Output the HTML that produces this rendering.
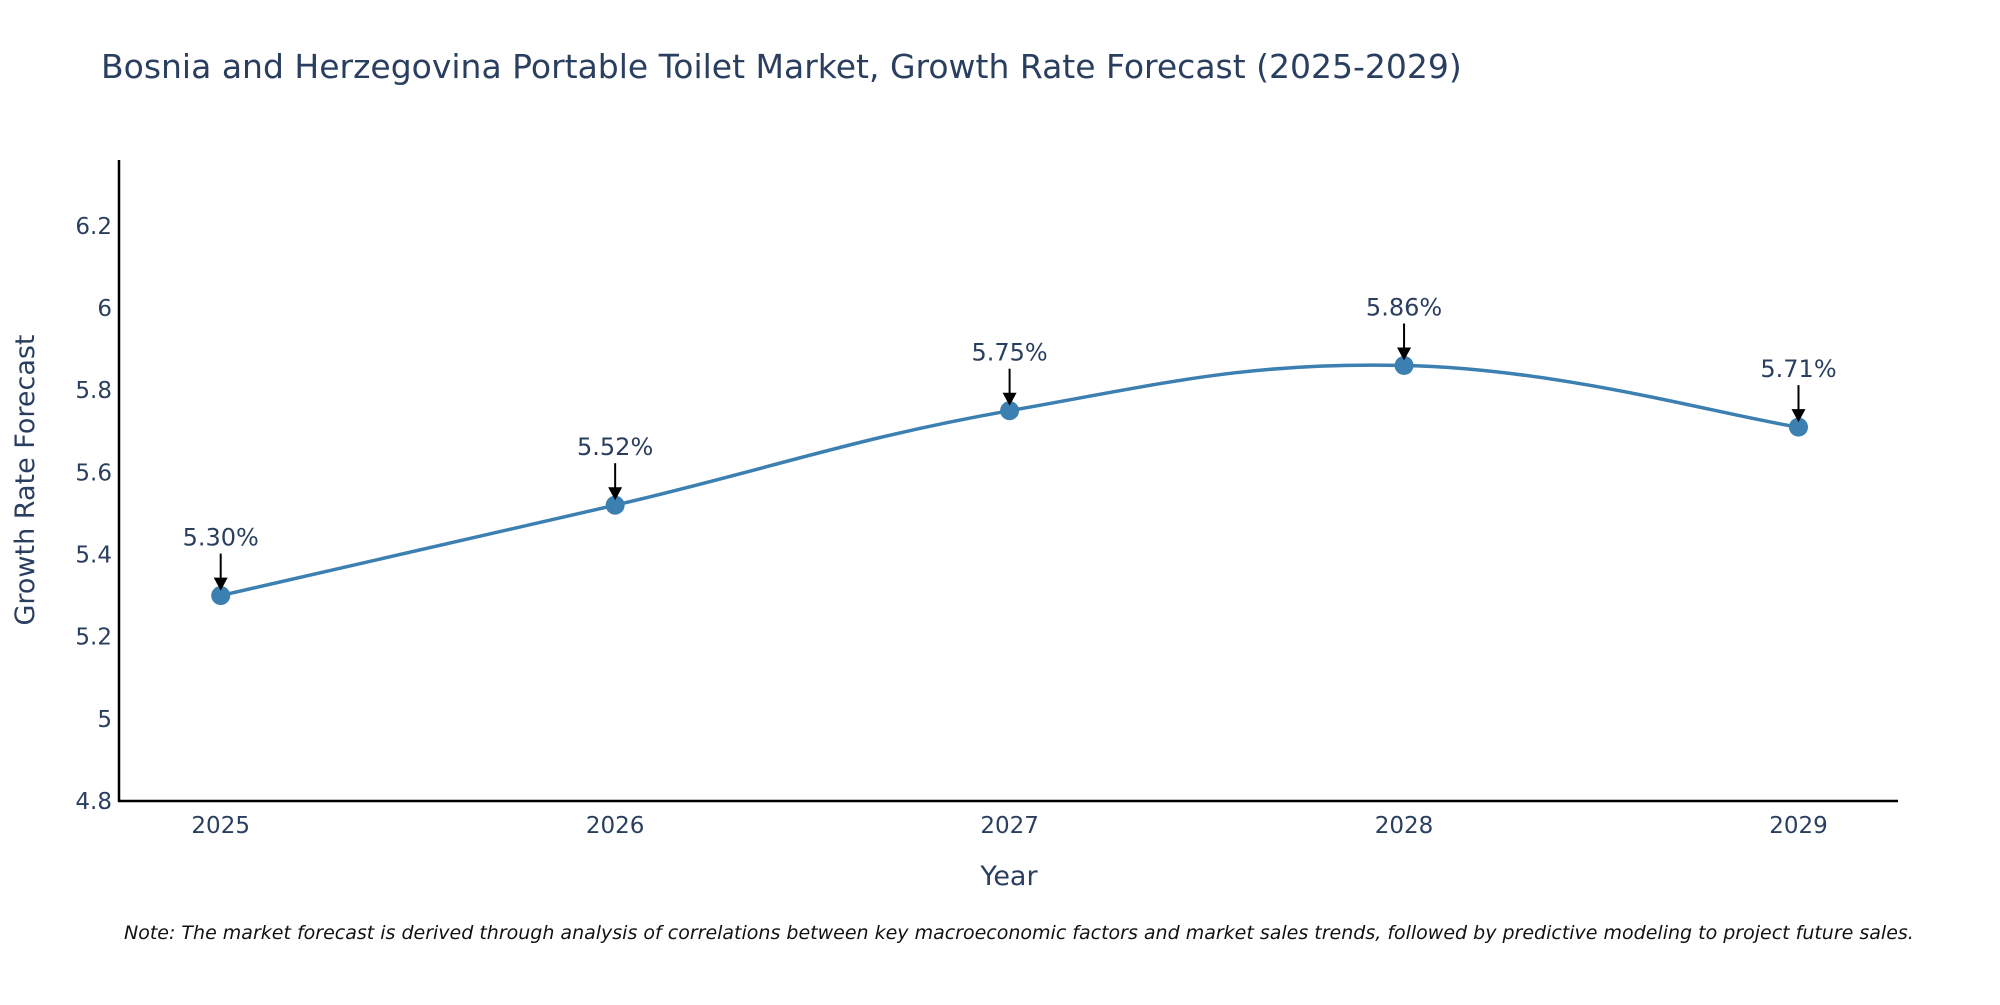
<!DOCTYPE html>
<html><head><meta charset="utf-8"><style>
body{margin:0;background:#fff;}
svg text{font-family:"DejaVu Sans","Liberation Sans",sans-serif;fill:#2a3f5f;}
</style></head><body>
<svg id="chart" width="2000" height="1000" xmlns="http://www.w3.org/2000/svg">
<text x="101" y="78" font-size="33">Bosnia and Herzegovina Portable Toilet Market, Growth Rate Forecast (2025-2029)</text>
<g id="yticks"></g>
<g id="xticks"></g>
<line x1="119" y1="160" x2="119" y2="802" stroke="#000" stroke-width="2.5"/>
<line x1="118" y1="801" x2="1898" y2="801" stroke="#000" stroke-width="2.5"/>
<text x="0" y="0" font-size="27" text-anchor="middle" transform="translate(34,480) rotate(-90)">Growth Rate Forecast</text>
<text x="1009" y="885" font-size="27" text-anchor="middle">Year</text>
<path id="line" fill="none" stroke="#3c7fb1" stroke-width="3.5"/>
<g id="points"></g>
<text x="124" y="939" font-size="19" font-style="italic" style="fill:#111">Note: The market forecast is derived through analysis of correlations between key macroeconomic factors and market sales trends, followed by predictive modeling to project future sales.</text>
</svg>
<script>
const years = [2025, 2026, 2027, 2028, 2029];
const values = [5.30, 5.52, 5.75, 5.86, 5.71];
const yTicks = [4.8, 5, 5.2, 5.4, 5.6, 5.8, 6, 6.2];
const NS = "http://www.w3.org/2000/svg";
const x = v => 220.7 + (v - 2025) * 394.45;
const y = v => 801 - (v - 4.8) / 0.2 * 82.17;
function mk(tag, attrs, parent){const e=document.createElementNS(NS,tag);for(const k in attrs)e.setAttribute(k,attrs[k]);parent.appendChild(e);return e;}
const yt=document.getElementById('yticks');
yTicks.forEach(t=>{
  const e=mk('text',{x:112,y:y(t)+8,'font-size':23,'text-anchor':'end'},yt);
  
  
  e.textContent=String(t);
});
const xt=document.getElementById('xticks');
years.forEach(t=>{
  const e=mk('text',{x:x(t),y:833,'font-size':23,'text-anchor':'middle'},xt);
  
  
  e.textContent=String(t);
});
const pts=years.map((yr,i)=>[x(yr),y(values[i])]);
let d=`M${pts[0][0]},${pts[0][1]}`;
const s=0.2;
for(let i=0;i<pts.length-1;i++){
  const p0=pts[Math.max(i-1,0)],p1=pts[i],p2=pts[i+1],p3=pts[Math.min(i+2,pts.length-1)];
  const c1=[p1[0]+(p2[0]-p0[0])*s,p1[1]+(p2[1]-p0[1])*s];
  const c2=[p2[0]-(p3[0]-p1[0])*s,p2[1]-(p3[1]-p1[1])*s];
  d+=` C${c1[0]},${c1[1]} ${c2[0]},${c2[1]} ${p2[0]},${p2[1]}`;
}
document.getElementById('line').setAttribute('d',d);
const pg=document.getElementById('points');
pts.forEach((p,i)=>{
  const c=mk('circle',{cx:p[0],cy:p[1],r:9.5,fill:'#3c7fb1'},pg);
  
  
  const l=mk('line',{x1:p[0],y1:p[1]-42,x2:p[0],y2:p[1]-16,stroke:'#000','stroke-width':2},pg);
  
  
  const a=mk('path',{d:`M${p[0]-7},${p[1]-18} L${p[0]+7},${p[1]-18} L${p[0]},${p[1]-5} Z`,fill:'#000'},pg);
  
  
  const t=mk('text',{x:p[0],y:p[1]-50,'font-size':24,'text-anchor':'middle'},pg);
  
  
  t.textContent=values[i].toFixed(2)+'%';
});
</script>
</body></html>
